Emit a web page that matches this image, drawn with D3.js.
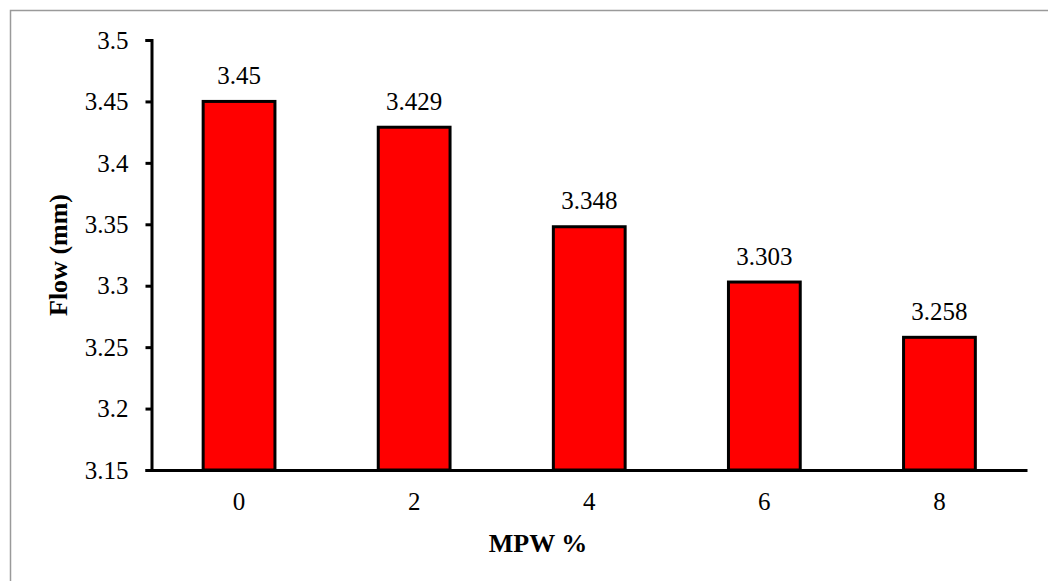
<!DOCTYPE html>
<html>
<head>
<meta charset="utf-8">
<script src="https://cdn.jsdelivr.net/npm/d3@7"></script>
<style>
  html, body { margin: 0; padding: 0; background: #fff; }
  svg { display: block; }
</style>
</head>
<body>
<svg id="chart" width="1048" height="581"></svg>
<script>
// MPW content (%) against measured flow (mm)
const categories = ["0", "2", "4", "6", "8"];
const flowValues = [3.45, 3.429, 3.348, 3.303, 3.258];
const yTicks = [3.15, 3.2, 3.25, 3.3, 3.35, 3.4, 3.45, 3.5];

const FONT = "Liberation Serif";
const svg = d3.select("#chart");
const W = 1048, H = 581;
const plot = { left: 151.5, right: 1027, top: 40, bottom: 470 };

// outer chart frame
svg.append("rect")
  .attr("x", 10.5).attr("y", 10.5)
  .attr("width", W + 20).attr("height", H + 20)
  .attr("fill", "#fff").attr("stroke", "#9a9a9a").attr("stroke-width", 1.5);

const x = d3.scaleBand().domain(categories).range([plot.left, plot.right]).paddingInner(0.59).paddingOuter(0.295);
const y = d3.scaleLinear().domain([3.15, 3.5]).range([plot.bottom, plot.top]);

// bars
svg.append("g").selectAll("rect").data(categories).join("rect")
  .attr("x", d => x(d))
  .attr("y", (d, i) => y(flowValues[i]))
  .attr("width", x.bandwidth())
  .attr("height", (d, i) => y(3.15) - y(flowValues[i]))
  .attr("fill", "#ff0000").attr("stroke", "#000").attr("stroke-width", 3);

// value labels
svg.append("g").selectAll("text").data(categories).join("text")
  .attr("x", d => x(d) + x.bandwidth() / 2)
  .attr("y", (d, i) => y(flowValues[i]) - 17.5)
  .attr("text-anchor", "middle")
  .attr("font-family", FONT)
  .attr("font-size", 25)
  .attr("fill", "#000")
  .text((d, i) => flowValues[i]);

// y axis
const yAxis = svg.append("g").attr("transform", `translate(${plot.left},0)`)
  .call(d3.axisLeft(y).tickValues(yTicks).tickFormat(d => d3.format("")(+d.toFixed(2))).tickSize(6).tickPadding(17))
  .attr("font-family", FONT).attr("font-size", 25);
yAxis.select(".domain").attr("stroke", "#000").attr("stroke-width", 3);
yAxis.selectAll(".tick line").attr("stroke", "#000").attr("stroke-width", 3);
yAxis.selectAll(".tick text").attr("font-family", FONT).attr("font-size", 25).attr("fill", "#000").attr("dy", "0.33em");

// x axis
const xAxis = svg.append("g").attr("transform", `translate(0,${plot.bottom})`)
  .call(d3.axisBottom(x).tickSize(0).tickPadding(22))
  .attr("font-family", FONT).attr("font-size", 25);
xAxis.select(".domain").attr("stroke", "#000").attr("stroke-width", 3);
xAxis.selectAll(".tick text").attr("font-family", FONT).attr("font-size", 25).attr("fill", "#000");

// axis titles
svg.append("text")
  .attr("x", 538).attr("y", 552)
  .attr("text-anchor", "middle")
  .attr("font-family", FONT).attr("font-size", 26).attr("font-weight", "bold").attr("fill", "#000")
  .text("MPW %");

svg.append("text")
  .attr("transform", `translate(67,${(plot.top + plot.bottom) / 2}) rotate(-90)`)
  .attr("text-anchor", "middle")
  .attr("font-family", FONT).attr("font-size", 26).attr("font-weight", "bold").attr("fill", "#000")
  .text("Flow (mm)");
</script>
</body>
</html>
